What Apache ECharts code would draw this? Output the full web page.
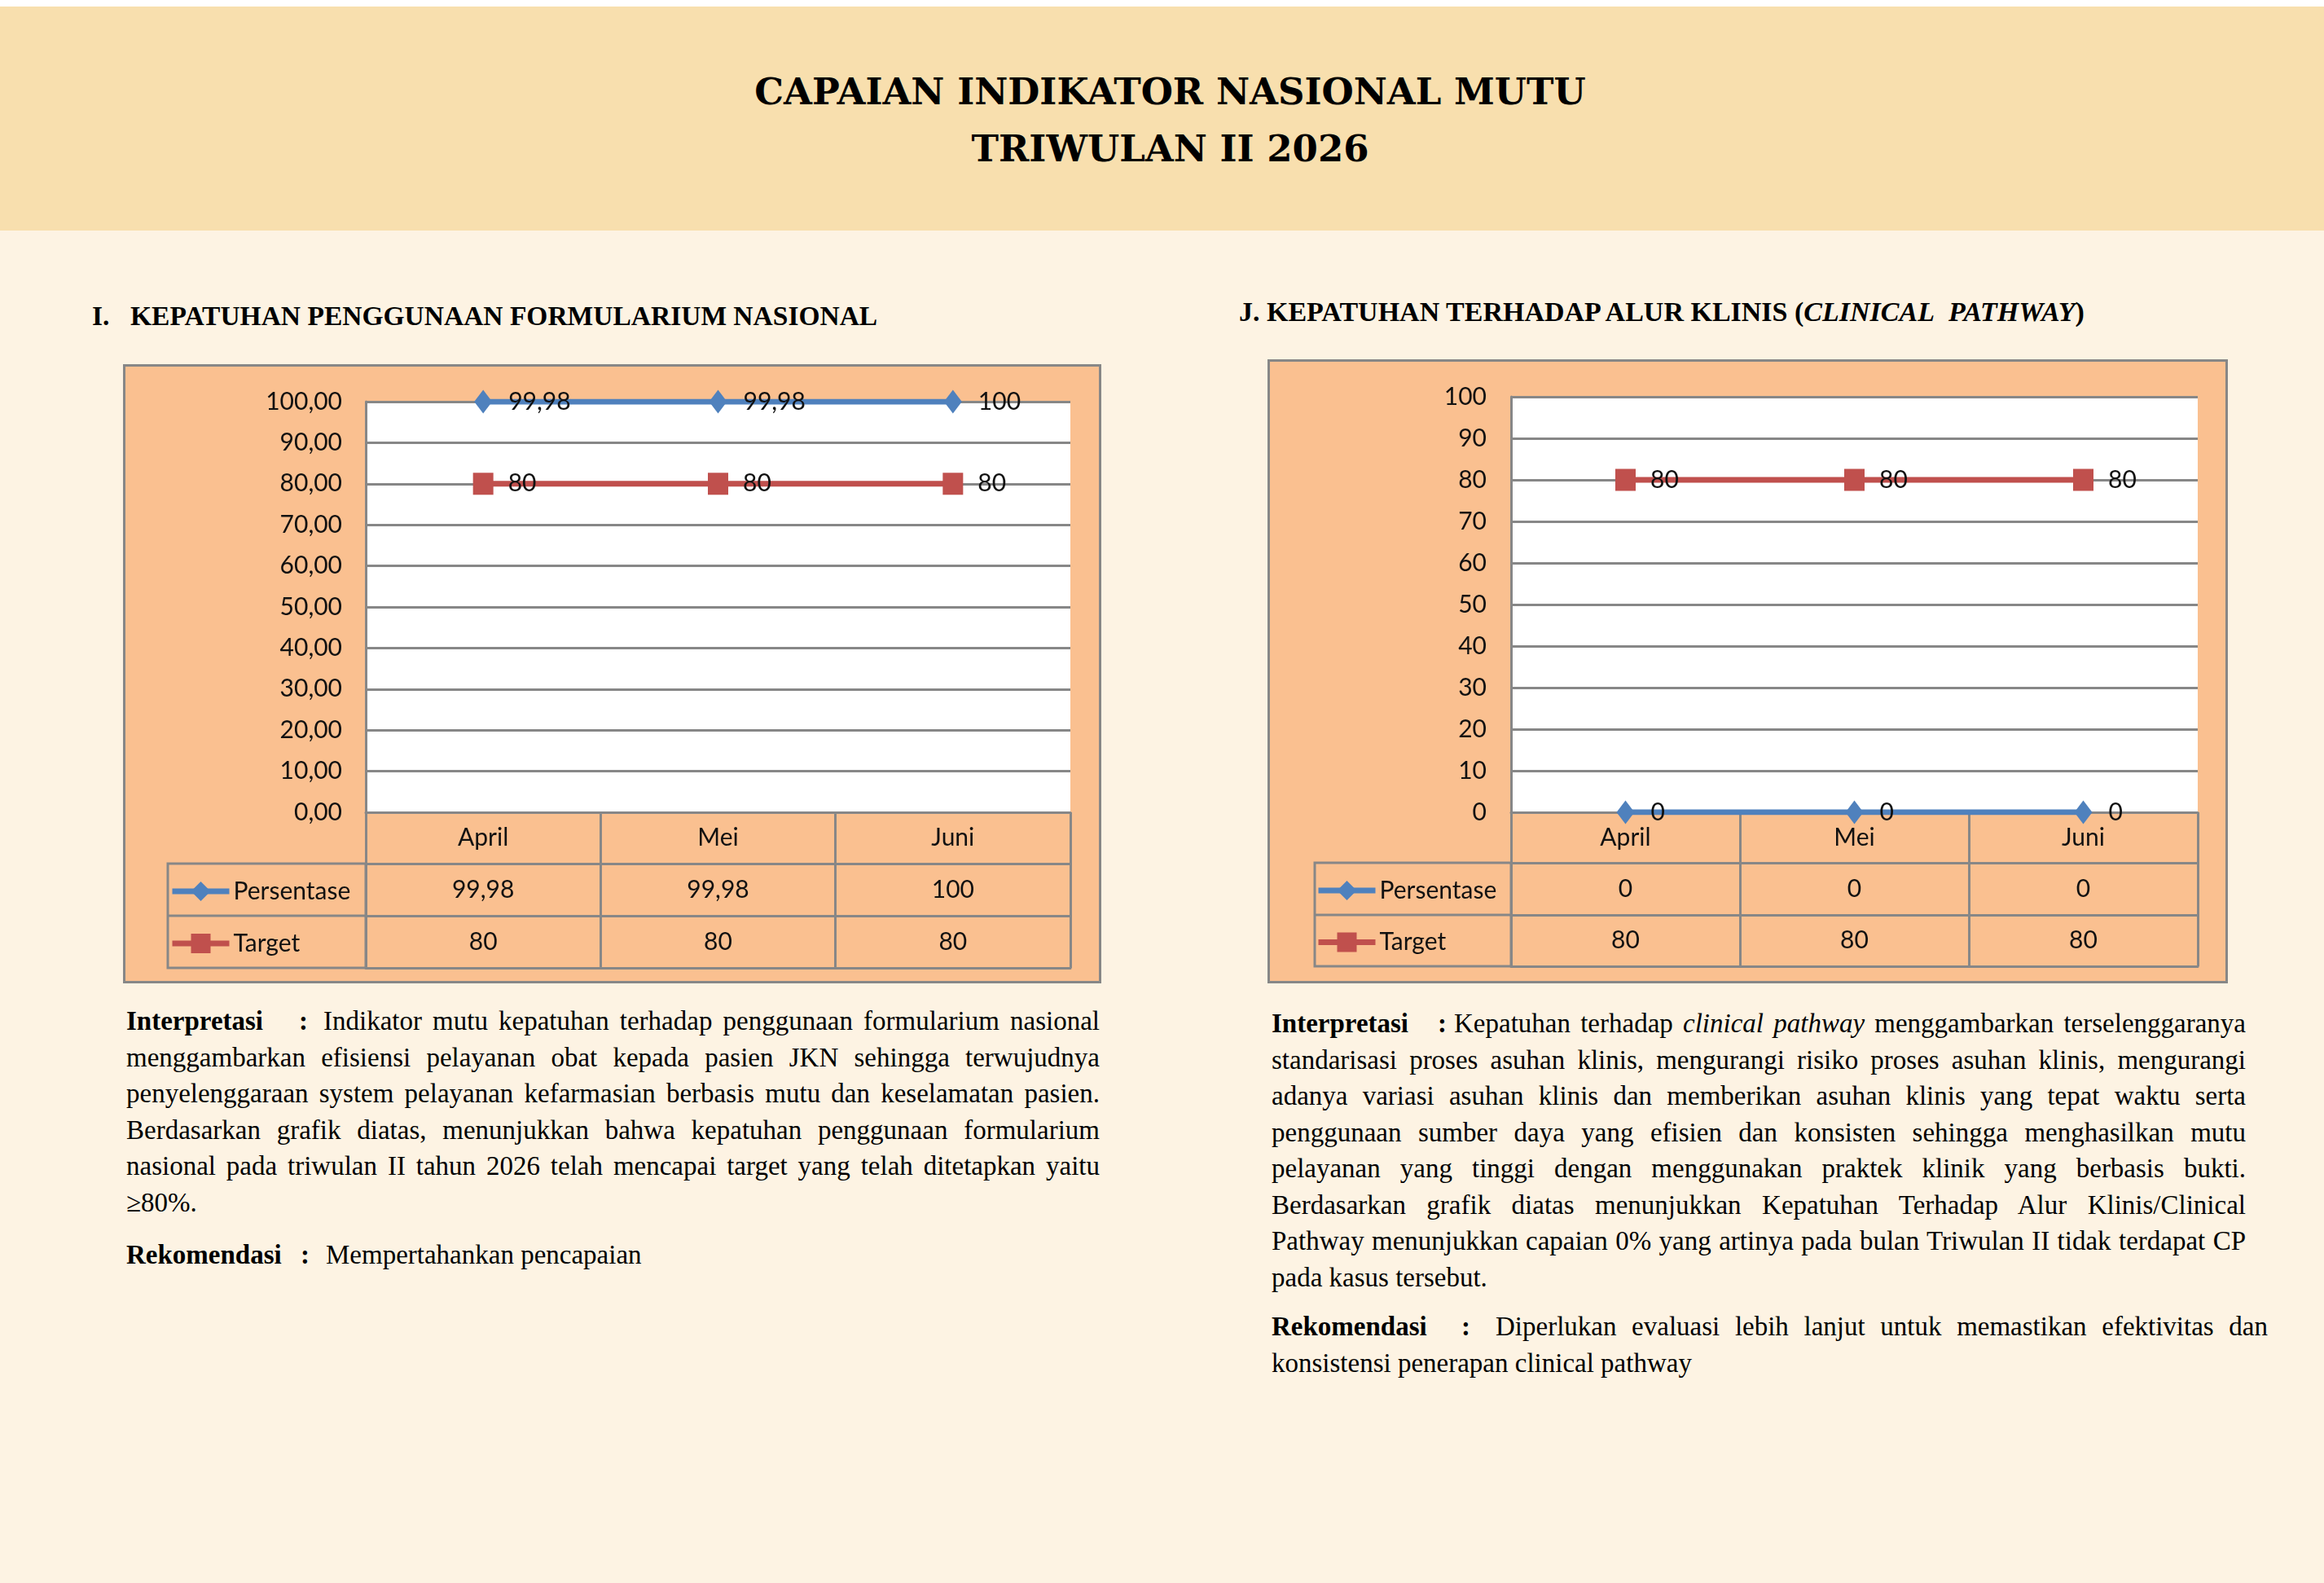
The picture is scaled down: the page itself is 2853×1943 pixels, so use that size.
<!DOCTYPE html>
<html>
<head>
<meta charset="utf-8">
<script src="https://cdn.jsdelivr.net/npm/echarts@6/dist/echarts.min.js"></script>
<style>
  html, body { margin:0; padding:0; background:#ffffff; }
  body { width:2853px; height:1943px; position:relative; overflow:hidden; }
  .band { position:absolute; left:0; top:8px; width:2853px; height:275px; background:#F8DFAE; }
  .page { position:absolute; left:0; top:283px; width:2853px; height:1660px; background:#FDF3E3; }
  .title { position:absolute; left:10px; width:2853px; text-align:center; font-family:'DejaVu Serif','Liberation Serif',serif; font-weight:bold; font-size:45px; line-height:70px; color:#000; white-space:nowrap; }
  .head { position:absolute; font-family:'Liberation Serif','Times New Roman',serif; font-weight:bold; font-size:33.5px; line-height:40px; color:#000; white-space:nowrap; }
  .para { position:absolute; font-family:'Liberation Serif','Times New Roman',serif; font-size:33px; color:#000; }
  .jl { text-align:justify; text-align-last:justify; line-height:44.5px; height:44.5px; white-space:normal; overflow:visible; }
  .ll { text-align:left; line-height:44.5px; height:44.5px; white-space:nowrap; }
  .pre { display:inline-block; font-weight:bold; white-space:nowrap; }
  .box { position:absolute; box-sizing:border-box; border:3px solid #878787; background:#FAC090; }
  .chart { position:absolute; left:0; top:0; }
</style>
</head>
<body>
<div class="band"></div>
<div class="page"></div>
<div class="title" style="top:78px">CAPAIAN INDIKATOR NASIONAL MUTU</div>
<div class="title" style="top:148px">TRIWULAN II 2026</div>

<div class="head" style="left:113px; top:368px"><span style="display:inline-block;width:47px">I.</span>KEPATUHAN PENGGUNAAN FORMULARIUM NASIONAL</div>
<div class="head" style="left:1521px; top:363px; font-size:34px">J. KEPATUHAN TERHADAP ALUR KLINIS (<i>CLINICAL&nbsp; PATHWAY</i>)</div>

<div class="box" style="left:151px; top:447px; width:1201px; height:760px"><div id="c1" class="chart" style="width:1195px; height:754px"></div></div>
<div class="box" style="left:1556px; top:441px; width:1179px; height:766px"><div id="c2" class="chart" style="width:1173px; height:760px"></div></div>

<div class="para" style="left:155px; top:1231px; width:1195px">
  <div class="jl"><span class="pre" style="width:212px">Interpretasi</span><span class="pre" style="width:30px">:</span>Indikator mutu kepatuhan terhadap penggunaan formularium nasional</div>
  <div class="jl">menggambarkan efisiensi pelayanan obat kepada pasien JKN sehingga terwujudnya</div>
  <div class="jl">penyelenggaraan system pelayanan kefarmasian berbasis mutu dan keselamatan pasien.</div>
  <div class="jl">Berdasarkan grafik diatas, menunjukkan bahwa kepatuhan penggunaan formularium</div>
  <div class="jl">nasional pada triwulan II tahun 2026 telah mencapai target yang telah ditetapkan yaitu</div>
  <div class="ll">≥80%.</div>
</div>
<div class="para" style="left:155px; top:1518px; width:1195px">
  <div class="ll"><span class="pre" style="width:214px">Rekomendasi</span><span class="pre" style="width:31px">:</span>Mempertahankan pencapaian</div>
</div>

<div class="para" style="left:1561px; top:1234px; width:1196px">
  <div class="jl"><span class="pre" style="width:204px">Interpretasi</span><span class="pre" style="width:20px">:</span>Kepatuhan terhadap <i>clinical pathway</i> menggambarkan terselenggaranya</div>
  <div class="jl">standarisasi proses asuhan klinis, mengurangi risiko proses asuhan klinis, mengurangi</div>
  <div class="jl">adanya variasi asuhan klinis dan memberikan asuhan klinis yang tepat waktu serta</div>
  <div class="jl">penggunaan sumber daya yang efisien dan konsisten sehingga menghasilkan mutu</div>
  <div class="jl">pelayanan yang tinggi dengan menggunakan praktek klinik yang berbasis bukti.</div>
  <div class="jl">Berdasarkan grafik diatas menunjukkan Kepatuhan Terhadap Alur Klinis/Clinical</div>
  <div class="jl">Pathway menunjukkan capaian 0% yang artinya pada bulan Triwulan II tidak terdapat CP</div>
  <div class="ll">pada kasus tersebut.</div>
</div>
<div class="para" style="left:1561px; top:1606px; width:1223px">
  <div class="jl"><span class="pre" style="width:233px">Rekomendasi</span><span class="pre" style="width:42px">:</span>Diperlukan evaluasi lebih lanjut untuk memastikan efektivitas dan</div>
  <div class="ll">konsistensi penerapan clinical pathway</div>
</div>

<script>
// ---------- data ----------
const categories = ['April', 'Mei', 'Juni'];
const persentaseFornas = [99.98, 99.98, 100];
const targetFornas = [80, 80, 80];
const persentaseCP = [0, 0, 0];
const targetCP = [80, 80, 80];
const seriesNames = ['Persentase', 'Target'];

// ---------- fit justified lines ----------
document.querySelectorAll('.jl').forEach(function (el) {
  let ls = 0;
  while (el.scrollHeight > 50 && ls > -2) { ls -= 0.05; el.style.letterSpacing = ls + 'px'; }
});

const FONT = 'Lato';
const GRAY = '#878787';
const BLUE = '#4F81BD';
const RED = '#C0504D';
const comma = v => String(v).replace('.', ',');

function buildOption(cfg) {
  const rows = cfg.rows;
  const r0 = rows[0], r1 = rows[1], r2 = rows[2];
  const lbl = { fontFamily: FONT, fontSize: 30, color: '#111' };
  function tableAxis(offset, h, values) {
    return {
      type: 'category', data: categories, position: 'bottom', gridIndex: 0,
      offset: offset, boundaryGap: true,
      axisLine: { show: true, lineStyle: { color: GRAY, width: 3 } },
      axisTick: { show: values !== null, interval: 0, length: h, lineStyle: { color: GRAY, width: 3 } },
      axisLabel: {
        show: values !== null, interval: 0, margin: h / 2, verticalAlign: 'middle',
        ...lbl,
        formatter: values ? function (v, i) { return comma(values[i]); } : undefined
      },
      splitLine: { show: false }
    };
  }
  return {
    animation: false,
    textStyle: { fontFamily: FONT },
    grid: {
      left: cfg.gridLeft, top: cfg.gridTop, width: cfg.gridWidth, height: cfg.gridHeight,
      show: true, backgroundColor: '#ffffff', borderWidth: 0, containLabel: false
    },
    legend: {
      orient: 'vertical', padding: 0, left: cfg.legendLeft, top: cfg.gridTop + cfg.gridHeight + r0 + r1 / 2 - 13,
      itemWidth: 70, itemHeight: 30, itemGap: (r1 + r2) / 2 - 30, itemTextGap: 4,
      lineStyle: { width: 7 },
      textStyle: { ...lbl }, data: seriesNames, selectedMode: false
    },
    xAxis: [
      {
        type: 'category', data: categories, position: 'bottom', boundaryGap: true,
        axisLine: { show: true, lineStyle: { color: GRAY, width: 3 } },
        axisTick: { show: true, interval: 0, length: r0, lineStyle: { color: GRAY, width: 3 } },
        axisLabel: { interval: 0, margin: r0 / 2, verticalAlign: 'middle', ...lbl },
        splitLine: { show: false }
      },
      tableAxis(r0, r1, cfg.pers),
      tableAxis(r0 + r1, r2, cfg.targ),
      tableAxis(r0 + r1 + r2, 0, null)
    ],
    yAxis: {
      type: 'value', min: 0, max: 100, interval: 10,
      axisLine: { show: true, lineStyle: { color: GRAY, width: 3 } },
      axisTick: { show: false },
      splitLine: { show: true, lineStyle: { color: GRAY, width: 3 } },
      axisLabel: { margin: cfg.yMargin, ...lbl, formatter: cfg.yFmt }
    },
    graphic: [
      {
        type: 'rect', z: 10, silent: true,
        shape: { x: cfg.legendBoxLeft, y: cfg.gridTop + cfg.gridHeight + r0, width: cfg.gridLeft - cfg.legendBoxLeft, height: r1 + r2 },
        style: { fill: 'none', stroke: GRAY, lineWidth: 3 }
      },
      {
        type: 'line', z: 10, silent: true,
        shape: { x1: cfg.legendBoxLeft, y1: cfg.gridTop + cfg.gridHeight + r0 + r1, x2: cfg.gridLeft, y2: cfg.gridTop + cfg.gridHeight + r0 + r1 },
        style: { stroke: GRAY, lineWidth: 3 }
      }
    ],
    series: [
      {
        name: seriesNames[0], type: 'line', data: cfg.pers, z: 4,
        symbol: 'diamond', symbolSize: [22, 29],
        lineStyle: { color: BLUE, width: 7 }, itemStyle: { color: BLUE },
        label: { show: true, position: 'right', distance: 20, ...lbl, formatter: p => comma(p.value) }
      },
      {
        name: seriesNames[1], type: 'line', data: cfg.targ, z: 3,
        symbol: 'rect', symbolSize: [25, 27],
        lineStyle: { color: RED, width: 7 }, itemStyle: { color: RED },
        label: { show: true, position: 'right', distance: 18, ...lbl, formatter: p => comma(p.value) }
      }
    ]
  };
}

const c1 = echarts.init(document.getElementById('c1'));
c1.setOption(buildOption({
  gridLeft: 295, gridTop: 43, gridWidth: 865, gridHeight: 504,
  rows: [63, 64, 64], legendLeft: 54, legendBoxLeft: 52, yMargin: 29,
  pers: persentaseFornas, targ: targetFornas,
  yFmt: v => v.toFixed(2).replace('.', ',')
}));

const c2 = echarts.init(document.getElementById('c2'));
c2.setOption(buildOption({
  gridLeft: 296, gridTop: 43, gridWidth: 843, gridHeight: 510,
  rows: [62, 64, 63], legendLeft: 56, legendBoxLeft: 55, yMargin: 30,
  pers: persentaseCP, targ: targetCP,
  yFmt: v => String(v)
}));
</script>
</body>
</html>
